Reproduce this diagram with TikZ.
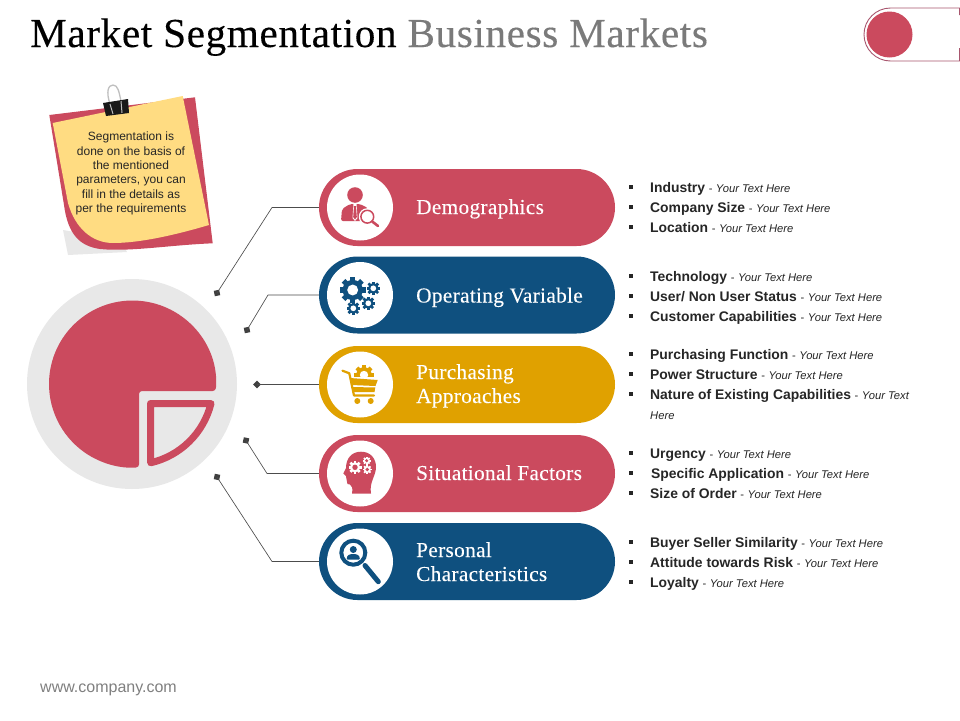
\documentclass[tikz,border=0pt]{standalone}
\usepackage{fontspec}
\setmainfont{Liberation Serif}
\newfontfamily\titlef[FakeBold=0.25,LetterSpace=1.5]{Liberation Serif}
\newfontfamily\labelf[LetterSpace=1.5,FakeBold=0.08]{Liberation Serif}
\newfontfamily\arialf{Liberation Sans}
\usetikzlibrary{shapes.misc,shapes.geometric}
\definecolor{cred}{HTML}{CB4A5E}
\definecolor{cblue}{HTML}{0F507F}
\definecolor{camber}{HTML}{E0A100}
\definecolor{cgray}{HTML}{E8E8E8}
\definecolor{cyellow}{HTML}{FFDC82}
\definecolor{ctxt}{HTML}{262626}
\definecolor{ctoggle}{HTML}{A8566E}
\tikzset{
  pill/.style={rounded rectangle,minimum width=296pt,minimum height=77pt,inner sep=0pt,fill=#1},
  disc/.style={circle,fill=white,minimum size=66pt,inner sep=0pt},
  plabel/.style={anchor=base west,inner sep=0pt,text=white,font=\labelf\fontsize{21.3}{21.3}\selectfont},
  itemtext/.style={anchor=base west,inner sep=0pt,text=ctxt,font=\arialf\fontsize{11.2}{11.2}\selectfont},
  bulletbox/.style={rectangle,fill=ctxt,minimum size=4pt,inner sep=0pt},
  tipdot/.style={rectangle,fill=black!75,minimum size=5.5pt,inner sep=0pt,rotate=#1},
  wire/.style={draw=black!70,line width=0.65pt},
  notetext/.style={inner sep=0pt,text=ctxt,font=\arialf\fontsize{12}{14.4}\selectfont,align=center},
}
\newcommand{\cog}[6]{% x y r teeth colour hole
  \begin{scope}[shift={(#1,#2)}]
    \foreach \k in {1,...,#4}{
      \fill[#5,rotate={360/#4*\k}] (-0.2*#3,0) rectangle (0.2*#3,#3);
    }
    \fill[#5] (0,0) circle ({0.78*#3});
    \fill[#6] (0,0) circle ({0.42*#3});
  \end{scope}}
\newcommand{\rowitem}[5]{% name y xtext bold italic
  \node[bulletbox] (b#1) at (631,#2) {};
  \node[itemtext] (t#1) at (#3,#2+5) {\textbf{\fontsize{13.9}{14}\selectfont #4}\hspace{0.6pt} - \hspace{0.4pt}\textit{#5}};}
\begin{document}
\begin{tikzpicture}[x=1pt,y=-1pt]
\useasboundingbox (0,0) rectangle (960,720);
\fill[white] (0,0) rectangle (960,720);
% title
\node[anchor=base west,inner sep=0pt,font=\titlef\fontsize{41.2}{41.2}\selectfont] (title) at (30,47)
  {Market Segmentation \textcolor{black!52}{Business Markets}};
% toggle
\draw[ctoggle,line width=0.9pt] (959.5,15) -- (959.5,8) -- (890.5,8) arc[start angle=-90,end angle=-270,radius=26.5] -- (959.5,61) -- (959.5,48);
\node[circle,fill=cred,minimum size=46pt,inner sep=0pt] (knob) at (889.5,34.5) {};
% sticky note
\fill[cgray] (63,230) -- (68,255) -- (127,252) -- (120,240) -- cycle;
\fill[cred] (49.3,115) -- (195,97.3) -- (212.7,243.3) .. controls (170,245) and (130,252) .. (100,249) .. controls (80,246) and (68,235) .. (64,205) -- cycle;
\fill[cyellow] (52.7,123) -- (182.7,96) -- (209,225) .. controls (175,235) and (140,243) .. (113,243) .. controls (92,243) and (75,228) .. (68,203) -- cycle;
\draw[black!25,line width=1.3pt] (110,104) .. controls (106,92) and (108,85) .. (113,85) .. controls (118,85) and (119,92) .. (121,101);
\fill[black!90] (103,103) -- (128,99) -- (129,113) -- (106,116) -- cycle;
\draw[black!25,line width=1pt] (110,104) -- (113,114) (121,101) -- (122,113);
\node[notetext] (note) at (131,173.5) {Segmentation is\\done on the basis of\\the mentioned\\parameters, you can\\fill in the details as\\per the requirements};
% big pie
\node[circle,fill=cgray,minimum size=210pt,inner sep=0pt] (ring) at (132,384) {};
\fill[cred,rounded corners=3pt] (139,391) -- (215.7,391) arc[start angle=4.8,end angle=-274.5,radius=83.5] -- cycle;
\draw[cred,fill=cgray,line width=7pt,line join=round] (150.5,403.5) -- (211,403.5) arc[start angle=14,end angle=77,radius=80.9] -- cycle;
% pills
\node[pill=cred] (p1) at (467,207.5) {};
\node[pill=cblue] (p2) at (467,295) {};
\node[pill=camber] (p3) at (467,384.5) {};
\node[pill=cred] (p4) at (467,473.5) {};
\node[pill=cblue] (p5) at (467,561.5) {};
\node[disc] (c1) at (360,207.5) {};
\node[disc] (c2) at (360,295) {};
\node[disc] (c3) at (360,384.5) {};
\node[disc] (c4) at (360,473.5) {};
\node[disc] (c5) at (360,561.5) {};
% connectors
\node[tipdot=12] (d1) at (217,293) {};
\node[tipdot=12] (d2) at (247,330) {};
\node[tipdot=45] (d3) at (257,384.5) {};
\node[tipdot=-12] (d4) at (246,440.5) {};
\node[tipdot=-12] (d5) at (217,477) {};
\coordinate (e1) at (272,207.5);
\coordinate (e2) at (268,295);
\coordinate (e4) at (267,473.5);
\coordinate (e5) at (272,561.5);
\draw[wire] (d1.center) -- (e1) -- (p1.west);
\draw[wire] (d2.center) -- (e2) -- (p2.west);
\draw[wire] (d3.center) -- (p3.west);
\draw[wire] (d4.center) -- (e4) -- (p4.west);
\draw[wire] (d5.center) -- (e5) -- (p5.west);
% labels
\node[plabel] (l1) at (416,214) {Demographics};
\node[plabel] (l2) at (416,302.5) {Operating Variable};
\node[plabel] (l3a) at (416,379) {Purchasing};
\node[plabel] (l3b) at (416,403) {Approaches};
\node[plabel] (l4) at (416,480) {Situational Factors};
\node[plabel] (l5a) at (416,557) {Personal};
\node[plabel] (l5b) at (416,581) {Characteristics};
% icon 1: person with lens
\fill[cred] (355,195) circle (7.8);
\fill[cred,rounded corners=2pt] (341,221) -- (342,209) -- (350,204) -- (360,204) -- (368,208) -- (369,221) -- cycle;
\fill[white] (353.5,204) -- (356.5,204) -- (357.5,218) -- (355,221) -- (352.5,218) -- cycle;
\fill[cred] (354,206) -- (356,206) -- (356.8,217) -- (355,219.5) -- (353.2,217) -- cycle;
\draw[white,fill=white,line width=1pt] (367.3,216.7) circle (8);
\draw[cred,line width=1.5pt,fill=white] (367.3,216.7) circle (6.4);
\draw[cred,line width=2.6pt,line cap=round] (372.2,221.5) -- (378,226);
% icon 2: gears
\cog{352.7}{290}{13}{8}{cblue}{white}
\cog{373.3}{288.3}{6.8}{8}{cblue}{white}
\cog{368.3}{303.3}{6.8}{8}{cblue}{white}
\cog{353.3}{308.3}{6.8}{8}{cblue}{white}
% icon 3: cart
\begin{scope}
  \clip (350,360) rectangle (380,376.5);
  \cog{364}{375}{10}{8}{camber}{white}
\end{scope}
\draw[camber,line width=2.2pt,line cap=round,line join=round] (342.5,370.7) -- (349.3,373.3) -- (354,395.5) -- (374,395.5);
\fill[camber] (350,378) -- (377.7,380) -- (375.5,386) -- (351.5,385) -- cycle;
\fill[camber] (352,387) -- (375.3,387.5) -- (374.5,392) -- (353,392) -- cycle;
\fill[camber] (357.3,401) circle (3) (370.7,401) circle (3);
% icon 4: head
\fill[cred] (352,493.5) .. controls (353,488) and (352,486) .. (350,484.5) -- (347.5,484) .. controls (346,481) and (347,478) .. (346,476) -- (343.3,473.5) -- (346,468) .. controls (346,458) and (352,451.7) .. (361,451.7) .. controls (371,451.7) and (376,459) .. (376,467) .. controls (376,476) and (369,482) .. (371,493.5) -- cycle;
\cog{355}{467.3}{6.5}{8}{white}{cred}
\cog{366.7}{460.7}{5.5}{8}{cred}{cred}
\cog{366.7}{460.7}{4}{8}{white}{cred}
\cog{367.3}{469.5}{4.5}{8}{white}{cred}
% icon 5: magnifier
\draw[cblue,line width=4pt] (353.3,552.7) circle (12);
\draw[cblue,line width=5pt,line cap=round] (365,565.5) -- (378.3,581.7);
\fill[cblue] (353.3,549.5) circle (3.5);
\fill[cblue,rounded corners=1pt] (346.5,559.5) -- (347.5,555.5) -- (351,554) -- (355.5,554) -- (359,555.5) -- (360,559.5) -- cycle;
% lists
\rowitem{a1}{187}{650}{Industry}{Your Text Here}
\rowitem{a2}{207}{650}{Company Size}{Your Text Here}
\rowitem{a3}{227}{650}{Location}{Your Text Here}
\rowitem{b1}{276}{650}{Technology}{Your Text Here}
\rowitem{b2}{296}{650}{User/ Non User Status}{Your Text Here}
\rowitem{b3}{316}{650}{Customer Capabilities}{Your Text Here}
\rowitem{c1}{354}{650}{Purchasing Function}{Your Text Here}
\rowitem{c2}{374}{650}{Power Structure}{Your Text Here}
\rowitem{c3}{394}{650}{Nature of Existing Capabilities}{Your Text}
\node[itemtext] (tc4) at (650,419) {\textit{Here}};
\rowitem{d1}{453}{650}{Urgency}{Your Text Here}
\rowitem{d2}{473}{651}{Specific Application}{Your Text Here}
\rowitem{d3}{493}{650}{Size of Order}{Your Text Here}
\rowitem{e1}{542}{650}{Buyer Seller Similarity}{Your Text Here}
\rowitem{e2}{562}{650}{Attitude towards Risk}{Your Text Here}
\rowitem{e3}{582}{650}{Loyalty}{Your Text Here}
% footer
\node[anchor=base west,inner sep=0pt,text=black!50,font=\arialf\fontsize{16}{16}\selectfont] (foot) at (40,692) {www.company.com};
\end{tikzpicture}
\end{document}
